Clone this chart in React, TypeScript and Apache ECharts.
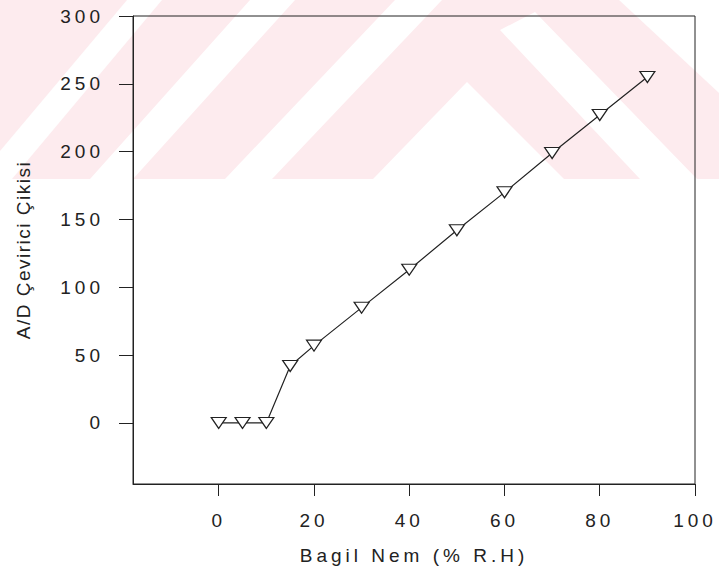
import React, { useEffect, useRef } from "react";
import * as echarts from "echarts";

const humidity = [0, 5, 10, 15, 20, 30, 40, 50, 60, 70, 80, 90];
const adOutput = [0, 0, 0, 42, 57, 85, 113, 142, 170, 199, 227, 255];
const xTickValues = [0, 20, 40, 60, 80, 100];
const yTickValues = [0, 50, 100, 150, 200, 250, 300];
const xTitle = "Bagil Nem (% R.H)";
const yTitle = "A/D Çevirici Çikisi";

const FONT = "'Liberation Sans', Arial, sans-serif";
const INK = "#222";
const PINK = "#fdebee";

function applySpacing(root: HTMLElement) {
  root.querySelectorAll("text").forEach((t) => {
    const s = t.textContent || "";
    (t as SVGTextElement).style.letterSpacing = s === yTitle ? "1.5px" : "4px";
  });
}

export default function App() {
  const ref = useRef<HTMLDivElement>(null);
  useEffect(() => {
    if (!ref.current) return;
    const chart = echarts.init(ref.current, null, { renderer: "svg" });
    const wm = (points: number[][]) => ({
      type: "polygon",
      z: -9,
      silent: true,
      shape: { points },
      style: { fill: "#ffffff" },
    });
    chart.setOption({
      animation: false,
      backgroundColor: "#ffffff",
      graphic: [
        { type: "rect", z: -10, silent: true, shape: { x: 0, y: 0, width: 719, height: 179 }, style: { fill: PINK } },
        wm([[127, 0], [162, 0], [12, 179], [0, 179], [0, 151]]),
        wm([[250, 0], [295, 0], [133, 179], [90, 179]]),
        wm([[395, 0], [442, 0], [272, 179], [225, 179]]),
        wm([[373, 179], [467, 82], [564, 179]]),
        wm([[500, 30], [535, 12], [697, 179], [640, 179]]),
        wm([[619, 0], [719, 0], [719, 93]]),
      ],
      grid: {
        left: 133,
        right: 24,
        top: 16,
        bottom: 96,
        show: true,
        borderColor: INK,
        borderWidth: 1,
        backgroundColor: "transparent",
      },
      xAxis: {
        type: "value",
        min: -18,
        max: 100,
        name: xTitle,
        nameLocation: "middle",
        nameGap: 62,
        nameTextStyle: { fontSize: 19, color: INK, fontFamily: FONT },
        axisLine: { show: true, onZero: false, lineStyle: { color: INK, width: 1 } },
        axisTick: { show: true, length: 12, customValues: xTickValues, lineStyle: { color: INK } },
        axisLabel: { customValues: xTickValues, fontSize: 19, color: INK, fontFamily: FONT, margin: 27 },
        splitLine: { show: false },
      },
      yAxis: {
        type: "value",
        min: -45,
        max: 300,
        name: yTitle,
        nameLocation: "middle",
        nameGap: 100,
        nameTextStyle: { fontSize: 19, color: INK, fontFamily: FONT },
        axisLine: { show: true, onZero: false, lineStyle: { color: INK, width: 1 } },
        axisTick: { show: true, length: 14, customValues: yTickValues, lineStyle: { color: INK } },
        axisLabel: { customValues: yTickValues, fontSize: 19, color: INK, fontFamily: FONT, margin: 29 },
        splitLine: { show: false },
      },
      series: [
        {
          type: "line",
          data: humidity.map((h, i) => [h, adOutput[i]]),
          symbol: "triangle",
          symbolRotate: 180,
          symbolSize: [15, 11],
          showAllSymbol: true,
          lineStyle: { color: INK, width: 1.2 },
          itemStyle: { color: "#ffffff", borderColor: INK, borderWidth: 1.2 },
          z: 3,
        },
      ],
    });
    const root = ref.current;
    applySpacing(root);
    chart.on("finished", () => applySpacing(root));
    const t = setTimeout(() => applySpacing(root), 50);
    return () => {
      clearTimeout(t);
      chart.dispose();
    };
  }, []);
  return <div ref={ref} style={{ width: 719, height: 580, position: "absolute", left: 0, top: 0 }} />;
}
